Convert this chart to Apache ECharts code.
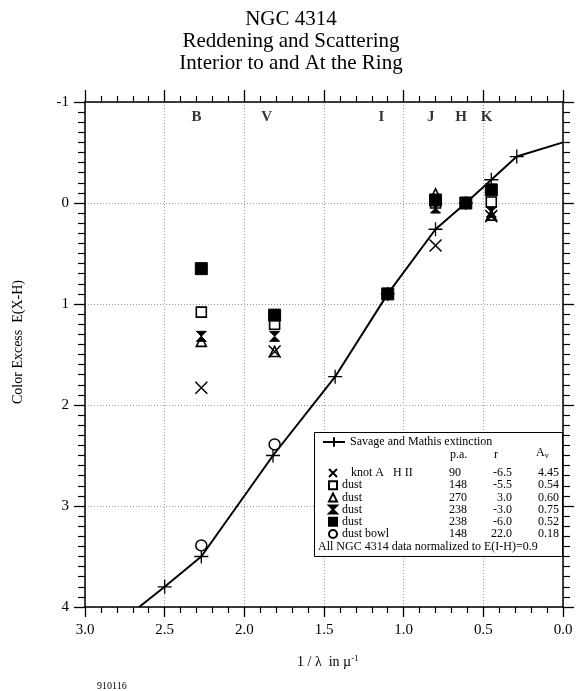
<!DOCTYPE html>
<html>
<head>
<meta charset="utf-8">
<script src="https://cdn.jsdelivr.net/npm/echarts@6/dist/echarts.min.js"></script>
<style>
html, body { margin: 0; padding: 0; background: #fff; }
#chart { width: 582px; height: 691px; }
</style>
</head>
<body>
<div id="chart"></div>
<script>
// values: x = 1/lambda (micron^-1), y = E(X-H)
const smX = [2.66, 2.5, 2.27, 1.82, 1.43, 1.1, 0.8, 0.61, 0.45, 0.29, 0.0];
const smY = [4.0, 3.8, 3.5, 2.5, 1.72, 0.9, 0.26, 0.0, -0.23, -0.46, -0.6];

const knotX = [2.27, 1.81, 0.8, 0.45];
const knotY = [1.83, 1.47, 0.42, 0.13];
const openSqX = [2.27, 1.81, 0.8, 0.45];
const openSqY = [1.08, 1.2, 0.0, -0.01];
const triX = [2.27, 1.81, 0.8, 0.45];
const triY = [1.37, 1.47, -0.09, 0.12];
const hourX = [2.27, 1.81, 0.8, 0.45];
const hourY = [1.32, 1.32, 0.05, 0.09];
const fillSqX = [2.27, 1.81, 1.1, 0.8, 0.61, 0.45];
const fillSqY = [0.65, 1.11, 0.9, -0.03, 0.0, -0.13];
const bowlX = [2.27, 1.81];
const bowlY = [3.39, 2.39];

const bandNames = ['B', 'V', 'I', 'J', 'H', 'K'];
const bandX = [2.3, 1.86, 1.14, 0.83, 0.64, 0.48];
const bandY = -0.85;

// legend table: name, p.a., r, A_v
const legendKeys = ['knot', 'dust1', 'dust2', 'dust3', 'dust4', 'bowl'];
const legendNames = ['   knot A   H II', 'dust', 'dust', 'dust', 'dust', 'dust bowl'];
const legendPA = ['90', '148', '270', '238', '238', '148'];
const legendR = ['-6.5', '-5.5', '3.0', '-3.0', '-6.0', '22.0'];
const legendAv = ['4.45', '0.54', '0.60', '0.75', '0.52', '0.18'];

const xTicks = [0, 0.5, 1.0, 1.5, 2.0, 2.5, 3.0];

function pairs(xs, ys) {
    return xs.map((x, i) => [x, ys[i]]);
}

const FONT = 'Liberation Serif';
const black = '#000';
const LF = 12; // legend font size

let mychart = echarts.init(document.getElementById('chart'));

let option = {
    animation: false,
    backgroundColor: '#fff',
    title: {
        text: 'NGC 4314\nReddening and Scattering\nInterior to and At the Ring',
        left: 'center',
        top: 3,
        textStyle: {
            fontFamily: FONT,
            fontSize: 21,
            lineHeight: 22,
            fontWeight: 'normal',
            color: black
        }
    },
    grid: { left: 85, right: 19, top: 102, bottom: 84 },
    legend: [
        {
            data: ['Savage and Mathis extinction'],
            left: 317,
            top: 431,
            itemWidth: 22,
            itemHeight: 12,
            selectedMode: false,
            textStyle: { fontFamily: FONT, fontSize: LF, color: black }
        },
        {
            data: legendKeys,
            orient: 'vertical',
            left: 323,
            top: 462,
            itemWidth: 8,
            itemHeight: 8,
            itemGap: 0.2,
            selectedMode: false,
            formatter: function (name) {
                let i = legendKeys.indexOf(name);
                return '{n|' + legendNames[i] + '}{p|' + legendPA[i] + '}{r|' + legendR[i] + '}{a|' + legendAv[i] + '}';
            },
            textStyle: {
                fontFamily: FONT,
                fontSize: LF,
                color: black,
                rich: {
                    n: { width: 107, fontFamily: FONT, fontSize: LF, lineHeight: 11 },
                    p: { width: 38, fontFamily: FONT, fontSize: LF, lineHeight: 11 },
                    r: { width: 25, align: 'right', fontFamily: FONT, fontSize: LF, lineHeight: 11 },
                    a: { width: 47, align: 'right', fontFamily: FONT, fontSize: LF, lineHeight: 11 }
                }
            }
        }
    ],
    graphic: [
        {
            type: 'rect',
            z: 3,
            shape: { x: 314.5, y: 432.5, width: 248, height: 124 },
            style: { fill: '#fff', stroke: black, lineWidth: 1 }
        },
        {
            type: 'text', z: 4, left: 450, top: 449,
            style: { text: 'p.a.', font: LF + 'px "Liberation Serif"', fill: black }
        },
        {
            type: 'text', z: 4, left: 494, top: 449,
            style: { text: 'r', font: LF + 'px "Liberation Serif"', fill: black }
        },
        {
            type: 'text', z: 4, left: 536, top: 447,
            style: {
                text: '{a|A}{v|v}',
                fill: black,
                rich: {
                    a: { fontFamily: FONT, fontSize: LF },
                    v: { fontFamily: FONT, fontSize: 8, padding: [6, 0, 0, 0] }
                }
            }
        },
        {
            type: 'text', z: 4, left: 318, top: 541,
            style: { text: 'All NGC 4314 data normalized to E(I-H)=0.9', font: LF + 'px "Liberation Serif"', fill: black }
        },
        {
            type: 'text',
            x: 18, y: 342, rotation: Math.PI / 2,
            style: { text: 'Color Excess  E(X-H)', font: '14px "Liberation Serif"', fill: black, align: 'center', verticalAlign: 'middle' }
        },
        {
            type: 'text', left: 297, top: 654,
            style: {
                text: '{t|1 / λ  in µ}{s|-1}',
                fill: black,
                rich: {
                    t: { fontFamily: FONT, fontSize: 14 },
                    s: { fontFamily: FONT, fontSize: 9, padding: [0, 0, 8, 0] }
                }
            }
        },
        {
            type: 'text', left: 97, top: 681,
            style: { text: '910116', font: '10px "Liberation Serif"', fill: black }
        }
    ],
    xAxis: [
        {
            type: 'value', position: 'bottom', inverse: true,
            min: 0, max: 3, interval: 0.5,
            axisLine: { show: true, onZero: false, lineStyle: { color: black, width: 1.5 } },
            axisTick: { show: true, length: 10, lineStyle: { color: black, width: 1.3 } },
            minorTick: { show: true, splitNumber: 5, length: 6, lineStyle: { color: black, width: 1.2 } },
            axisLabel: {
                margin: 16, color: black, fontFamily: FONT, fontSize: 15,
                formatter: v => xTicks.includes(v) ? v.toFixed(1) : ''
            },
            splitLine: { show: true, lineStyle: { color: '#999', type: [1, 2], width: 1 } }
        },
        {
            type: 'value', position: 'top', inverse: true,
            min: 0, max: 3, interval: 0.5,
            axisLine: { show: true, onZero: false, lineStyle: { color: black, width: 1.5 } },
            axisTick: { show: true, length: 12, lineStyle: { color: black, width: 1.3 } },
            minorTick: { show: true, splitNumber: 5, length: 6, lineStyle: { color: black, width: 1.2 } },
            axisLabel: { show: false },
            splitLine: { show: false }
        }
    ],
    yAxis: [
        {
            type: 'value', position: 'left', inverse: true,
            min: -1, max: 4, interval: 1,
            axisLine: { show: true, onZero: false, lineStyle: { color: black, width: 1.5 } },
            axisTick: { show: true, length: 11, lineStyle: { color: black, width: 1.3 } },
            minorTick: { show: true, splitNumber: 10, length: 7, lineStyle: { color: black, width: 1.2 } },
            axisLabel: { margin: 16, color: black, fontFamily: FONT, fontSize: 15 },
            splitLine: { show: true, lineStyle: { color: '#999', type: [1, 2], width: 1 } }
        },
        {
            type: 'value', position: 'right', inverse: true,
            min: -1, max: 4, interval: 1,
            axisLine: { show: true, onZero: false, lineStyle: { color: black, width: 1.5 } },
            axisTick: { show: true, length: 11, lineStyle: { color: black, width: 1.3 } },
            minorTick: { show: true, splitNumber: 10, length: 7, lineStyle: { color: black, width: 1.2 } },
            axisLabel: { show: false },
            splitLine: { show: false }
        }
    ],
    series: [
        {
            name: 'Savage and Mathis extinction',
            type: 'line',
            data: pairs(smX, smY).map((p, i) => ({
                value: p,
                symbol: (i === 0 || i === smX.length - 1) ? 'none' : 'path://M5,0L5,10M0,5L10,5'
            })),
            symbol: 'path://M5,0L5,10M0,5L10,5',
            symbolSize: 14,
            showSymbol: true,
            lineStyle: { color: black, width: 2 },
            itemStyle: { color: black, borderColor: black, borderWidth: 1.3, opacity: 1 },
            z: 2
        },
        {
            name: 'dust2', type: 'scatter', data: pairs(triX, triY),
            symbol: 'triangle', symbolSize: 10,
            itemStyle: { color: '#fff', borderColor: black, borderWidth: 1.6, opacity: 1 }, z: 3
        },
        {
            name: 'dust1', type: 'scatter', data: pairs(openSqX, openSqY),
            symbol: 'rect', symbolSize: 10,
            itemStyle: { color: '#fff', borderColor: black, borderWidth: 1.6, opacity: 1 }, z: 3
        },
        {
            name: 'knot', type: 'scatter', data: pairs(knotX, knotY),
            symbol: 'path://M0,0L10,10M10,0L0,10', symbolSize: 12,
            itemStyle: { color: black, borderColor: black, borderWidth: 1.5, opacity: 1 }, z: 3
        },
        {
            name: 'dust3', type: 'scatter', data: pairs(hourX, hourY),
            symbol: 'path://M0,0L10,0L0,10L10,10Z', symbolSize: 10,
            itemStyle: { color: black, borderColor: black, borderWidth: 1, opacity: 1 }, z: 3
        },
        {
            name: 'dust4', type: 'scatter', data: pairs(fillSqX, fillSqY),
            symbol: 'rect', symbolSize: 12,
            itemStyle: { color: black, borderColor: black, borderWidth: 1, opacity: 1 }, z: 3
        },
        {
            name: 'bowl', type: 'scatter', data: pairs(bowlX, bowlY),
            symbol: 'circle', symbolSize: 11,
            itemStyle: { color: '#fff', borderColor: black, borderWidth: 1.5, opacity: 1 }, z: 3
        },
        {
            name: 'bands', type: 'scatter',
            data: bandX.map((x, i) => ({ value: [x, bandY], name: bandNames[i] })),
            symbolSize: 0, silent: true,
            label: {
                show: true, position: 'inside', formatter: '{b}',
                fontFamily: FONT, fontSize: 15, fontWeight: 'bold', color: black
            }
        }
    ]
};

mychart.setOption(option);
</script>
</body>
</html>
